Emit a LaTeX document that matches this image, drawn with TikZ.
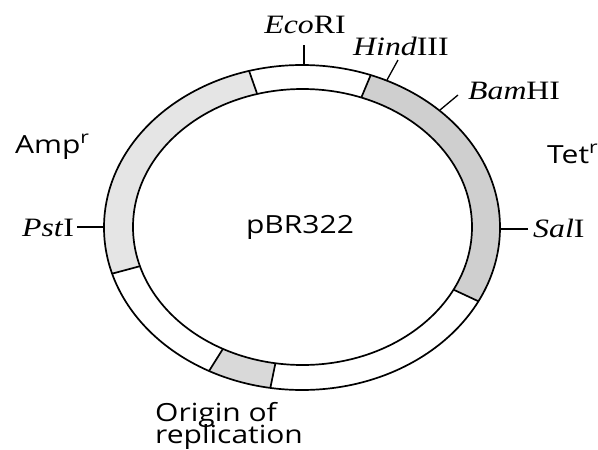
\documentclass[tikz,border=0pt]{standalone}
\usepackage{fontspec}
\usepackage{graphicx}
% Enzyme names: Liberation Serif, gene names: Open Sans, both widened
\newfontfamily\sitefamily{Liberation Serif}[FakeStretch=1.2]
\newfontfamily\genefamily{Open Sans}[FakeStretch=1.2]
% allow tightly set two-line labels
\lineskiplimit=-100pt\relax

\tikzset{
  ringedge/.style={line width=1.7pt},
  sitetick/.style={line width=1.3pt},
  ampfill/.style={fill=black!10},
  tetfill/.style={fill=black!19},
  orifill/.style={fill=black!15},
  sitelabel/.style={inner sep=0pt, font=\sitefamily\fontsize{26.5}{30}\selectfont},
  genelabel/.style={inner sep=0pt, font=\genefamily\fontsize{25}{22}\selectfont},
}

% shaded band of the plasmid ring between two parameter angles
\newcommand\ringband[3]{%
  \fill[#3] plot[domain=#1:#2,samples=60] ({302+198*cos(\x)},{227.5+162.5*sin(\x)})
    -- plot[domain=#2:#1,samples=60] ({302.5+169.5*cos(\x)},{227+138*sin(\x)}) -- cycle;}

\begin{document}
\begin{tikzpicture}[x=1pt,y=-1pt]
\useasboundingbox (0,0) rectangle (598,450);

% gene regions
\ringband{163.5}{254.5}{ampfill}
\ringband{290.3}{387}{tetfill}
\ringband{99.2}{118}{orifill}

% ring outlines
\draw[ringedge] (302,227.5) ellipse [x radius=198, y radius=162.5];
\draw[ringedge] (302.5,227) ellipse [x radius=169.5, y radius=138];
\foreach \a in {-105.5,-69.7,27,99.2,118,163.5}
  \draw[ringedge] ({302+198*cos(\a)},{227.5+162.5*sin(\a)}) -- ({302.5+169.5*cos(\a)},{227+138*sin(\a)});

% labels
\node[sitelabel, anchor=base] (eco) at (305,33) {\textit{Eco}RI};
\node[sitelabel, anchor=base west] (hind) at (353,55) {\textit{Hind}III};
\node[sitelabel, anchor=base west] (bam) at (468,99) {\textit{Bam}HI};
\node[sitelabel, anchor=base west] (sal) at (533,237) {\textit{Sal}I};
\node[sitelabel, anchor=base west] (pst) at (22,236) {\textit{Pst}I};
\node[genelabel, anchor=base west] (amp) at (15,153) {Amp\textsuperscript{r}};
\node[genelabel, anchor=base west] (tet) at (547,163) {Tet\textsuperscript{r}};
\node[genelabel, anchor=base] (plasmid) at (300,233) {pBR322};
\node[genelabel, anchor=base west, align=left] (ori) at (155,443) {Origin of\\replication};

% restriction site ticks
\coordinate (ecoTick) at (304,45);  \coordinate (ecoSite) at (304,65);
\coordinate (hindTick) at (398,60); \coordinate (hindSite) at (387,80);
\coordinate (bamTick) at (458,95);  \coordinate (bamSite) at (440,110);
\coordinate (salTick) at (528,229); \coordinate (salSite) at (500,229);
\coordinate (pstTick) at (77,227);  \coordinate (pstSite) at (104,227);
\draw[sitetick] (ecoTick) -- (ecoSite);
\draw[sitetick] (hindTick) -- (hindSite);
\draw[sitetick] (bamTick) -- (bamSite);
\draw[sitetick] (salTick) -- (salSite);
\draw[sitetick] (pstTick) -- (pstSite);
\end{tikzpicture}
\end{document}
